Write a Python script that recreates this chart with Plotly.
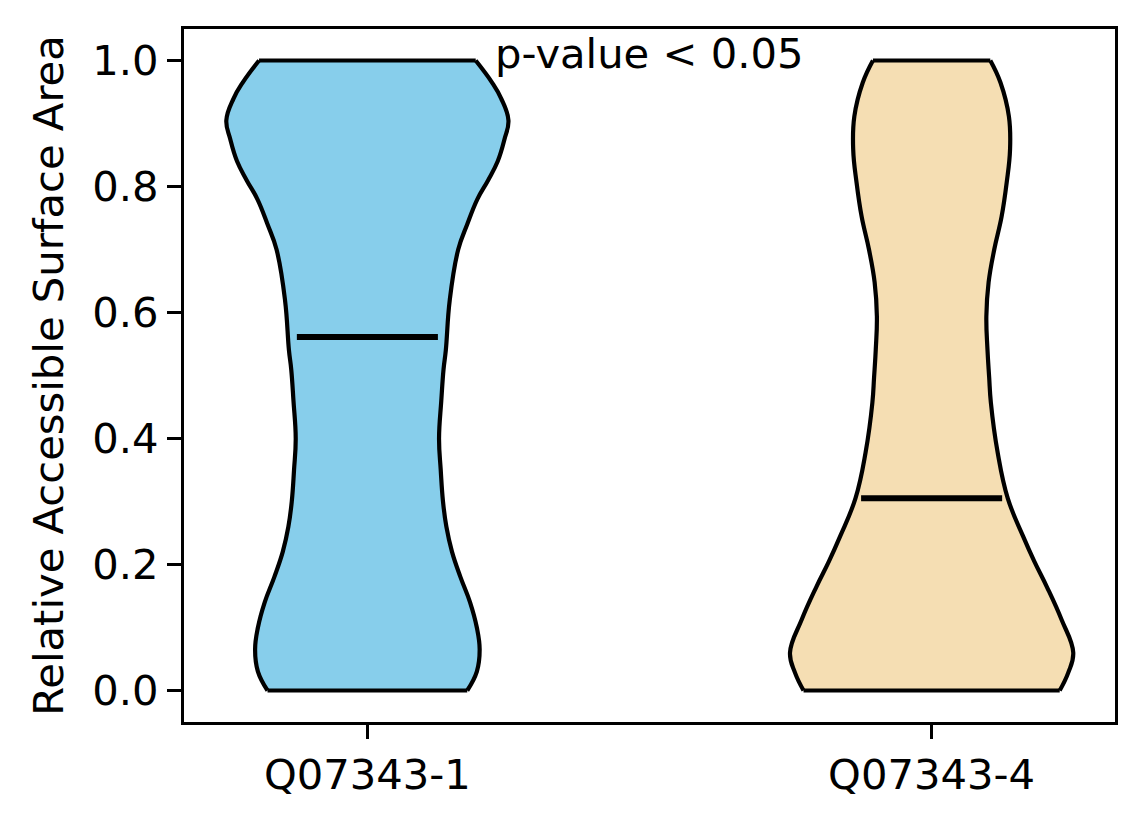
import plotly.graph_objects as go

# ---- data ----
categories = ["Q07343-1", "Q07343-4"]
positions = [1, 2]
medians = [0.561, 0.305]
fill_colors = ["#87CEEB", "#F5DEB3"]
annotation_text = "p-value < 0.05"

# violin outline: y levels and half-widths (in x-axis units)
blue_y = [0.0, 0.03, 0.065, 0.10, 0.14, 0.18, 0.22, 0.26, 0.30, 0.35, 0.40, 0.46,
          0.51, 0.54, 0.62, 0.70, 0.74, 0.78, 0.81, 0.84, 0.875, 0.905, 0.94, 0.965, 1.0]
blue_hw = [0.177, 0.194, 0.199, 0.194, 0.182, 0.165, 0.150, 0.140, 0.134, 0.130, 0.127, 0.131,
           0.135, 0.139, 0.146, 0.161, 0.177, 0.195, 0.214, 0.231, 0.243, 0.250, 0.237, 0.221, 0.192]

orange_y = [0.0, 0.028, 0.06, 0.113, 0.165, 0.205, 0.245, 0.305, 0.378, 0.457, 0.497, 0.541,
            0.594, 0.648, 0.70, 0.752, 0.806, 0.859, 0.911, 0.965, 1.0]
orange_hw = [0.227, 0.242, 0.251, 0.230, 0.204, 0.182, 0.162, 0.135, 0.117, 0.105, 0.102, 0.099,
             0.097, 0.101, 0.111, 0.124, 0.133, 0.139, 0.137, 0.122, 0.104]

y_ticks = [0.0, 0.2, 0.4, 0.6, 0.8, 1.0]
median_halfwidth = 0.125

FS = 41.7
profiles = [(blue_y, blue_hw), (orange_y, orange_hw)]

fig = go.Figure()
for pos, (ys, hws), col, med in zip(positions, profiles, fill_colors, medians):
    right_x = [pos + h for h in hws]
    left_x = [pos - h for h in hws]
    # fill polygon
    fig.add_trace(go.Scatter(
        x=right_x + left_x[::-1], y=ys + ys[::-1],
        mode="lines", fill="toself", fillcolor=col,
        line=dict(width=0, color=col), hoverinfo="skip", showlegend=False))
    # smooth side outlines
    for sx in (right_x, left_x):
        fig.add_trace(go.Scatter(
            x=sx, y=ys, mode="lines",
            line=dict(color="black", width=4.2, shape="spline", smoothing=1.2),
            hoverinfo="skip", showlegend=False))
    # top and bottom flat edges
    for k in (0, -1):
        fig.add_trace(go.Scatter(
            x=[left_x[k], right_x[k]], y=[ys[k], ys[k]], mode="lines",
            line=dict(color="black", width=4.2), hoverinfo="skip", showlegend=False))
    # median line
    fig.add_trace(go.Scatter(
        x=[pos - median_halfwidth, pos + median_halfwidth], y=[med, med], mode="lines",
        line=dict(color="black", width=6), hoverinfo="skip", showlegend=False))

fig.add_annotation(
    x=(positions[0] + positions[1]) / 2, y=1.011, text=annotation_text,
    showarrow=False, xanchor="center", yanchor="middle",
    font=dict(size=FS, color="black", family="DejaVu Sans"))

# margins compensate for the 8px default body margin of the page
fig.update_layout(
    width=1144, height=824,
    margin=dict(l=176, r=37, t=21, b=110),
    paper_bgcolor="white", plot_bgcolor="white",
    font=dict(family="DejaVu Sans", size=FS, color="black"),
    showlegend=False,
)
fig.update_xaxes(
    range=[0.675, 2.325], tickvals=positions, ticktext=categories,
    showgrid=False, zeroline=False, showline=True, mirror=True,
    linecolor="black", linewidth=3, ticks="outside", ticklen=14, tickwidth=3,
    tickcolor="black", tickfont=dict(size=FS))
fig.update_yaxes(
    range=[-0.05, 1.05], tickvals=y_ticks, tickformat=".1f",
    showgrid=False, zeroline=False, showline=True, mirror=True,
    linecolor="black", linewidth=3, ticks="outside", ticklen=14, tickwidth=3,
    tickcolor="black", tickfont=dict(size=FS),
    title=dict(text="Relative Accessible Surface Area", font=dict(size=FS), standoff=16))

fig.write_html("out.html")
